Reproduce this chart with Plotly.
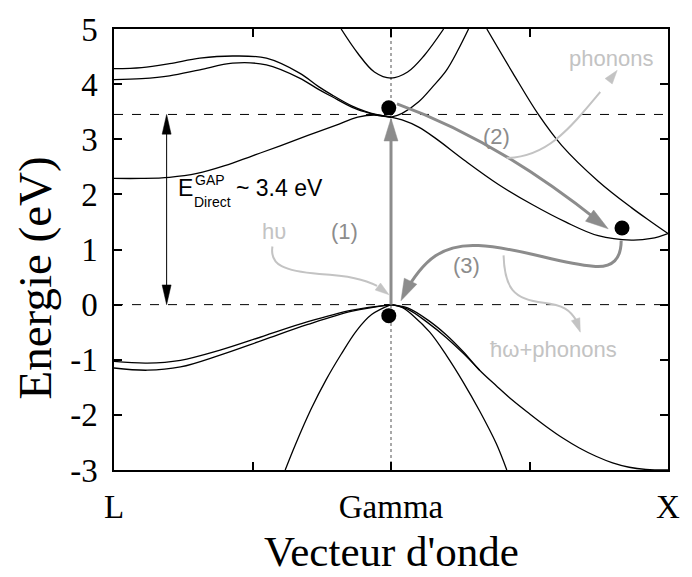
import math

import plotly.graph_objects as go

# k runs from L (0) through Gamma (0.5) to X (1); energies in eV
# conduction bands
cb_l_low_k = [0, 0.05, 0.1, 0.15, 0.2, 0.25, 0.3, 0.35, 0.4, 0.44, 0.47, 0.5]
cb_l_low_e = [2.29, 2.29, 2.31, 2.38, 2.52, 2.70, 2.88, 3.07, 3.25, 3.40, 3.44, 3.40]

cb_l_top_k = [0, 0.05, 0.1, 0.155, 0.214, 0.275, 0.335, 0.37, 0.394, 0.43, 0.455, 0.473, 0.5]
cb_l_top_e = [4.28, 4.30, 4.37, 4.47, 4.51, 4.47, 4.20, 3.95, 3.80, 3.60, 3.50, 3.45, 3.40]

cb_l_mid_k = [0, 0.05, 0.1, 0.155, 0.214, 0.275, 0.335, 0.37, 0.394, 0.43, 0.455, 0.473, 0.5]
cb_l_mid_e = [4.08, 4.10, 4.15, 4.26, 4.38, 4.35, 4.11, 3.90, 3.77, 3.58, 3.49, 3.44, 3.40]

cb_g_up_k = [0.41, 0.44, 0.47, 0.5, 0.53, 0.56, 0.595]
cb_g_up_e = [5.0, 4.56, 4.22, 4.11, 4.22, 4.52, 5.0]

cb_x_steep_k = [0.5, 0.52, 0.55, 0.575, 0.6, 0.62, 0.64]
cb_x_steep_e = [3.40, 3.47, 3.68, 3.95, 4.25, 4.60, 5.0]

cb_x_desc_k = [0.673, 0.72, 0.766, 0.808, 0.874, 0.934, 0.97, 1.0]
cb_x_desc_e = [5.0, 4.20, 3.45, 2.89, 2.24, 1.76, 1.50, 1.29]

cb_x_low_k = [0.5, 0.52, 0.55, 0.58, 0.635, 0.694, 0.754, 0.815, 0.874, 0.934, 0.97, 1.0]
cb_x_low_e = [3.40, 3.35, 3.22, 3.02, 2.60, 2.18, 1.82, 1.50, 1.25, 1.17, 1.20, 1.29]

# valence bands
vb_l_hi_k = [0, 0.06, 0.12, 0.19, 0.27, 0.35, 0.43, 0.5]
vb_l_hi_e = [-1.03, -1.06, -1.01, -0.83, -0.57, -0.31, -0.10, 0.0]
vb_l_lo_k = [0, 0.06, 0.12, 0.19, 0.27, 0.35, 0.43, 0.5]
vb_l_lo_e = [-1.15, -1.19, -1.13, -0.92, -0.64, -0.36, -0.12, 0.0]

vb_steep_k = [0.309, 0.327, 0.356, 0.383, 0.41, 0.438, 0.465, 0.5]
vb_steep_e = [-3.0, -2.55, -1.89, -1.36, -0.90, -0.47, -0.18, 0.0]

vb_x_lh_k = [0.5, 0.52, 0.54, 0.57, 0.6, 0.63, 0.66, 0.69, 0.709]
vb_x_lh_e = [0.0, -0.05, -0.20, -0.50, -0.92, -1.40, -1.93, -2.52, -3.0]

vb_x_hh_k = [0.5, 0.53, 0.568, 0.6, 0.63, 0.66, 0.69, 0.72, 0.75, 0.78, 0.81, 0.84, 0.87, 0.9, 0.93, 0.96, 1.0]
vb_x_hh_e = [0.0, -0.06, -0.29, -0.55, -0.85, -1.19, -1.47, -1.74, -1.98, -2.21, -2.42, -2.60,
             -2.75, -2.87, -2.95, -2.99, -3.0]
vb_x_hh2_k = [0.5, 0.53, 0.568, 0.6, 0.63, 0.66]
vb_x_hh2_e = [0.0, -0.08, -0.34, -0.60, -0.88, -1.19]

bands = [
    (cb_l_low_k, cb_l_low_e), (cb_l_top_k, cb_l_top_e), (cb_l_mid_k, cb_l_mid_e),
    (cb_g_up_k, cb_g_up_e), (cb_x_steep_k, cb_x_steep_e), (cb_x_desc_k, cb_x_desc_e),
    (cb_x_low_k, cb_x_low_e), (vb_l_hi_k, vb_l_hi_e), (vb_l_lo_k, vb_l_lo_e),
    (vb_steep_k, vb_steep_e), (vb_x_lh_k, vb_x_lh_e), (vb_x_hh_k, vb_x_hh_e),
    (vb_x_hh2_k, vb_x_hh2_e),
]

# carriers (electron / hole positions)
dot_k = [0.496, 0.496, 0.917]
dot_e = [3.57, -0.20, 1.39]

gap_e = 3.45
y_ticks = [-3, -2, -1, 0, 1, 2, 3, 4, 5]
x_ticks = [0, 0.25, 0.5, 0.75, 1]
x_labels = ["L", "", "Gamma", "", "X"]

GREY = "#8c8c8c"
LIGHT = "#c3c3c3"
SERIF = "Liberation Serif"
SANS = "Liberation Sans"

W, H = 692, 577
M_L, M_R, M_T, M_B = 114, 22, 22, 107
PX_K = (W - M_L - M_R) / 1.0
PX_E = (H - M_T - M_B) / 8.0


def head_path(tip, tail, length, width):
    """Filled triangular arrow head, sized in pixels, returned in data coords."""
    dx = (tip[0] - tail[0]) * PX_K
    dy = (tip[1] - tail[1]) * PX_E
    n = math.hypot(dx, dy)
    ux, uy = dx / n, dy / n
    tx, ty = tip[0] * PX_K, tip[1] * PX_E
    bx, by = tx - ux * length, ty - uy * length
    px, py = -uy * width / 2, ux * width / 2
    pts = [(tx, ty), (bx + px, by + py), (bx - px, by - py)]
    return "M " + " L ".join(f"{x / PX_K:.4f},{y / PX_E:.4f}" for x, y in pts) + " Z"


fig = go.Figure()

for k, e in bands:
    fig.add_trace(go.Scatter(x=k, y=e, mode="lines",
                             line=dict(color="black", width=1.3, shape="spline", smoothing=1),
                             hoverinfo="skip"))

fig.add_trace(go.Scatter(x=dot_k, y=dot_e, mode="markers",
                         marker=dict(size=15, color="black"), hoverinfo="skip"))

shapes = [
    dict(type="line", x0=0, x1=1, y0=0, y1=0, layer="below",
         line=dict(color="black", width=1, dash="dash")),
    dict(type="line", x0=0, x1=1, y0=gap_e, y1=gap_e, layer="below",
         line=dict(color="black", width=1, dash="dash")),
    dict(type="line", x0=0.5, x1=0.5, y0=-3, y1=5, layer="below",
         line=dict(color=GREY, width=1.5, dash="dot")),
    # gap double arrow
    dict(type="line", x0=0.095, x1=0.095, y0=0.1, y1=gap_e - 0.1,
         line=dict(color="black", width=1)),
    # (1) vertical transition
    dict(type="line", x0=0.5, x1=0.5, y0=0.0, y1=3.1, line=dict(color=GREY, width=3)),
    # (2) relaxation to the X valley
    dict(type="path", path="M 0.5108,3.643 Q 0.6888,3.0 0.874,1.518",
         line=dict(color=GREY, width=3)),
    # (3) indirect recombination
    dict(type="path",
         path="M 0.9155,1.161 C 0.9155,0.839 0.901,0.661 0.865,0.696 "
              "C 0.802,0.75 0.730,1.036 0.658,1.071 C 0.595,1.107 0.559,0.839 0.523,0.179",
         line=dict(color=GREY, width=3)),
    # h nu
    dict(type="path",
         path="M 0.286,1.054 C 0.2806,0.714 0.3076,0.607 0.3705,0.554 "
              "C 0.4245,0.518 0.4514,0.464 0.4748,0.339",
         line=dict(color=LIGHT, width=2)),
    # phonons
    dict(type="path", path="M 0.7086,2.661 C 0.7806,2.679 0.8201,3.161 0.8777,3.857",
         line=dict(color=LIGHT, width=2)),
    # hbar omega + phonons
    dict(type="path",
         path="M 0.7032,0.893 C 0.705,0.304 0.7212,0.089 0.7752,0.036 "
              "C 0.8112,0.0 0.8237,-0.107 0.8345,-0.286",
         line=dict(color=LIGHT, width=2)),
]

heads = [
    ((0.095, gap_e), (0.095, 0.0), 20, 9, "black"),
    ((0.095, 0.0), (0.095, gap_e), 20, 9, "black"),
    ((0.5, 3.38), (0.5, 0.0), 23, 14, GREY),
    ((0.892, 1.375), (0.847, 1.696), 23, 14, GREY),
    ((0.518, 0.071), (0.532, 0.357), 22, 14, GREY),
    ((0.4964, 0.179), (0.4748, 0.339), 14, 9, LIGHT),
    ((0.9083, 4.25), (0.8777, 3.857), 14, 9, LIGHT),
    ((0.8417, -0.5), (0.8327, -0.25), 14, 9, LIGHT),
]
for tip, tail, length, width, color in heads:
    shapes.append(dict(type="path", path=head_path(tip, tail, length, width),
                       fillcolor=color, line=dict(color=color, width=0.5)))

annotations = [
    dict(x=0.1115, y=2.107, text="E", font=dict(family=SANS, size=23, color="black"),
         xanchor="left"),
    dict(x=0.142, y=2.26, text="GAP", font=dict(family=SANS, size=14, color="black"),
         xanchor="left"),
    dict(x=0.1403, y=1.86, text="Direct", font=dict(family=SANS, size=14, color="black"),
         xanchor="left"),
    dict(x=0.2158, y=2.107, text="~ 3.4 eV", font=dict(family=SANS, size=23, color="black"),
         xanchor="left"),
    dict(x=0.4155, y=1.321, text="(1)", font=dict(family=SANS, size=22, color=GREY)),
    dict(x=0.6906, y=3.054, text="(2)", font=dict(family=SANS, size=22, color=GREY)),
    dict(x=0.6367, y=0.714, text="(3)", font=dict(family=SANS, size=22, color=GREY)),
    dict(x=0.2896, y=1.321, text="hυ", font=dict(family=SANS, size=22, color=LIGHT)),
    dict(x=0.8975, y=4.464, text="phonons", font=dict(family=SANS, size=22, color=LIGHT)),
    dict(x=0.7932, y=-0.821, text="ħω+phonons", font=dict(family=SANS, size=22, color=LIGHT)),
    dict(x=-0.142, y=0.435, xref="paper", yref="paper", text="Energie (eV)", textangle=-90,
         xanchor="center", yanchor="middle",
         font=dict(family=SERIF, size=47, color="black")),
    dict(x=0.5, y=-0.184, xref="paper", yref="paper", text="Vecteur d'onde",
         xanchor="center", yanchor="middle",
         font=dict(family=SERIF, size=43, color="black")),
]
for a in annotations:
    a.setdefault("showarrow", False)

fig.update_layout(
    width=W, height=H,
    margin=dict(l=M_L, r=M_R, t=M_T, b=M_B),
    paper_bgcolor="white", plot_bgcolor="white",
    showlegend=False,
    shapes=shapes,
    annotations=annotations,
    xaxis=dict(range=[0, 1], showgrid=False, zeroline=False, showline=True, linecolor="black",
               linewidth=1.5, mirror="ticks", ticks="inside", ticklen=8, tickwidth=1.5,
               tickcolor="black", tickvals=x_ticks, ticktext=x_labels, ticklabelstandoff=7,
               tickfont=dict(family=SERIF, size=33, color="black")),
    yaxis=dict(range=[-3, 5], showgrid=False, zeroline=False, showline=True, linecolor="black",
               linewidth=1.5, mirror="ticks", ticks="inside", ticklen=8, tickwidth=1.5,
               tickcolor="black", tickvals=y_ticks, ticktext=[str(v) for v in y_ticks],
               ticklabelstandoff=8, tickfont=dict(family=SERIF, size=33, color="black")),
)

# the page body has a default 8px margin; drop it so the figure sits at the window corner
fig.write_html("out.html", config={"displayModeBar": False},
               post_script="document.body.style.margin = '0';")
